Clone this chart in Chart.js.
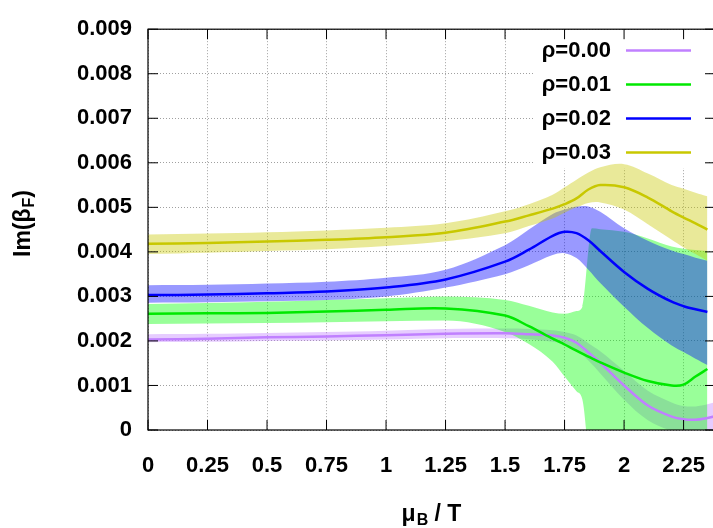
<!DOCTYPE html>
<html>
<head>
<meta charset="utf-8">
<script src="https://cdn.jsdelivr.net/npm/chart.js@4.4.1/dist/chart.umd.min.js"></script>
<style>
  html, body { margin: 0; padding: 0; background: #fff; overflow: hidden; }
  canvas { display: block; }
</style>
</head>
<body>
<canvas id="chart" width="716" height="528"></canvas>
<script>
// values in units of 1e-3
const U = 1e-3;

// mu_B / T grid
const mu = [0, 0.25, 0.5, 0.75, 1, 1.25, 1.5, 1.6, 1.7, 1.75, 1.8, 1.85, 1.9, 2, 2.1, 2.2, 2.25, 2.3, 2.35];
const muPurple = [0, 0.25, 0.5, 0.75, 1, 1.25, 1.5, 1.6, 1.7, 1.75, 1.8, 1.85, 1.9, 2, 2.1, 2.2, 2.25, 2.3, 2.35, 2.385];
const muGreenBand = [0, 0.25, 0.5, 0.75, 1, 1.25, 1.5, 1.6, 1.7, 1.75, 1.8, 1.825, 1.865, 1.9, 2, 2.1, 2.2, 2.3, 2.35];

// rho = 0.00
const purpleLine = [2.03, 2.05, 2.08, 2.10, 2.13, 2.16, 2.17, 2.15, 2.12, 2.07, 1.96, 1.74, 1.51, 1.00, 0.55, 0.30, 0.24, 0.23, 0.27, 0.31];
const purpleUp   = [2.15, 2.16, 2.18, 2.20, 2.23, 2.27, 2.28, 2.27, 2.24, 2.20, 2.12, 1.95, 1.77, 1.33, 0.88, 0.62, 0.54, 0.53, 0.58, 0.63];
const purpleLo   = [1.97, 1.98, 2.00, 2.01, 2.03, 2.06, 2.06, 2.04, 1.98, 1.93, 1.80, 1.56, 1.27, 0.68, 0.22, -0.02, -0.06, -0.08, -0.04, -0.01];

// rho = 0.01
const greenLine = [2.61, 2.62, 2.63, 2.66, 2.70, 2.73, 2.57, 2.33, 2.05, 1.92, 1.78, 1.65, 1.52, 1.29, 1.10, 1.00, 1.02, 1.20, 1.37];
const greenUp   = [2.83, 2.85, 2.88, 2.92, 2.96, 3.00, 2.92, 2.79, 2.64, 2.61, 2.67, 2.77, 4.53, 4.51, 4.45, 4.30, 4.12, 4.04, 4.02];
const greenLo   = [2.38, 2.39, 2.40, 2.42, 2.44, 2.46, 2.20, 1.93, 1.53, 1.20, 0.87, 0.68, -1.0, -1.0, -1.0, -1.0, -1.0, -1.0, -1.0];

// rho = 0.02
const blueLine = [3.03, 3.04, 3.07, 3.11, 3.20, 3.38, 3.78, 4.05, 4.36, 4.45, 4.42, 4.26, 4.02, 3.55, 3.17, 2.88, 2.78, 2.71, 2.65];
const blueUp   = [3.25, 3.26, 3.29, 3.33, 3.42, 3.60, 4.15, 4.50, 4.85, 4.95, 5.02, 5.02, 4.90, 4.53, 4.25, 4.03, 3.95, 3.87, 3.80];
const blueLo   = [2.86, 2.87, 2.89, 2.92, 3.00, 3.20, 3.50, 3.70, 3.93, 3.97, 3.86, 3.60, 3.30, 2.77, 2.29, 1.90, 1.75, 1.60, 1.46];

// rho = 0.03
const yellowLine = [4.18, 4.20, 4.23, 4.27, 4.33, 4.43, 4.68, 4.82, 4.97, 5.07, 5.20, 5.40, 5.50, 5.45, 5.22, 4.91, 4.77, 4.64, 4.50];
const yellowUp   = [4.39, 4.41, 4.44, 4.48, 4.54, 4.64, 4.91, 5.07, 5.28, 5.45, 5.62, 5.78, 5.90, 5.97, 5.76, 5.50, 5.42, 5.33, 5.25];
const yellowLo   = [3.95, 3.98, 4.02, 4.06, 4.13, 4.24, 4.42, 4.58, 4.75, 4.88, 5.00, 5.10, 5.11, 4.95, 4.62, 4.27, 4.10, 3.95, 3.80];

const labels = ["ρ=0.00", "ρ=0.01", "ρ=0.02", "ρ=0.03"];
const lineColors = ["#c080ff", "#00e800", "#0000ff", "#c8c800"];
const bandColors = ["rgba(192,128,255,0.4)", "rgba(0,255,0,0.4)", "rgba(0,0,255,0.4)", "rgba(200,200,0,0.4)"];

const FONT = "'Liberation Sans', Arial, sans-serif";
Chart.defaults.font.family = FONT;

function pts(xs, ys) {
  return xs.map((x, i) => ({ x: x, y: ys[i] * U }));
}

// smooth curves; the green band has a jump so it keeps monotone interpolation
function curve(monotone) {
  return monotone ? { cubicInterpolationMode: "monotone" } : { tension: 0.35 };
}

function band(xs, up, lo, color, order, monotone) {
  return [
    Object.assign({ data: pts(xs, up), fill: "+1", backgroundColor: color, borderWidth: 0,
      borderColor: "rgba(0,0,0,0)", pointRadius: 0, order: order }, curve(monotone)),
    Object.assign({ data: pts(xs, lo), fill: false, borderWidth: 0,
      borderColor: "rgba(0,0,0,0)", pointRadius: 0, order: order }, curve(monotone))
  ];
}

function line(xs, ys, color, order) {
  return Object.assign({ data: pts(xs, ys), fill: false, borderColor: color, borderWidth: 2.5,
    pointRadius: 0, order: order }, curve(false));
}

const datasets = [
  ...band(muPurple, purpleUp, purpleLo, bandColors[0], 8, false),
  ...band(muGreenBand, greenUp, greenLo, bandColors[1], 7, true),
  ...band(mu, blueUp, blueLo, bandColors[2], 6, false),
  ...band(mu, yellowUp, yellowLo, bandColors[3], 5, false),
  line(muPurple, purpleLine, lineColors[0], 4),
  line(mu, greenLine, lineColors[1], 3),
  line(mu, blueLine, lineColors[2], 2),
  line(mu, yellowLine, lineColors[3], 1)
];

// text with one subscript part, centred on (0,0)
function subText(ctx, before, sub, after) {
  const big = "bold 23px " + FONT, small = "bold 16px " + FONT;
  ctx.font = big; const w1 = ctx.measureText(before).width;
  const w3 = ctx.measureText(after).width;
  ctx.font = small; const w2 = ctx.measureText(sub).width;
  let x = -(w1 + w2 + w3) / 2;
  ctx.textAlign = "left";
  ctx.textBaseline = "middle";
  ctx.font = big; ctx.fillText(before, x, 0); x += w1;
  ctx.font = small; ctx.fillText(sub, x + 1, 6); x += w2 + 1;
  ctx.font = big; ctx.fillText(after, x, 0);
}

const decorations = {
  id: "decorations",
  beforeDatasetsDraw(chart) {
    // opaque key box hides the grid behind the legend
    const ctx = chart.ctx;
    ctx.save();
    ctx.fillStyle = "#fff";
    ctx.fillRect(533, 30, 175, 138);
    ctx.restore();
  },
  afterDraw(chart) {
    const { ctx, chartArea: a, scales: { x, y } } = chart;
    ctx.save();
    // frame and inward ticks
    ctx.strokeStyle = "#000";
    ctx.lineWidth = 1.2;
    ctx.strokeRect(a.left, a.top, a.right - a.left, a.bottom - a.top);
    ctx.lineWidth = 1;
    ctx.beginPath();
    x.ticks.forEach(t => {
      const px = x.getPixelForValue(t.value);
      ctx.moveTo(px, a.bottom); ctx.lineTo(px, a.bottom - 10);
      ctx.moveTo(px, a.top); ctx.lineTo(px, a.top + 10);
    });
    y.ticks.forEach(t => {
      const py = y.getPixelForValue(t.value);
      ctx.moveTo(a.left, py); ctx.lineTo(a.left + 10, py);
      ctx.moveTo(a.right, py); ctx.lineTo(a.right - 10, py);
    });
    ctx.stroke();

    // legend
    ctx.font = "bold 22px " + FONT;
    ctx.textAlign = "right";
    ctx.textBaseline = "middle";
    labels.forEach((lab, i) => {
      const ly = 50.5 + 34 * i;
      ctx.fillStyle = "#000";
      ctx.fillText(lab, 611, ly);
      ctx.strokeStyle = lineColors[i];
      ctx.lineWidth = 2.5;
      ctx.beginPath();
      ctx.moveTo(626, ly); ctx.lineTo(691, ly);
      ctx.stroke();
    });

    // axis titles
    ctx.fillStyle = "#000";
    ctx.save();
    ctx.translate(24, 224);
    ctx.rotate(-Math.PI / 2);
    subText(ctx, "Im(β", "F", ")");
    ctx.restore();
    ctx.save();
    ctx.translate(431, 515);
    subText(ctx, "μ", "B", " / T");
    ctx.restore();
    ctx.restore();
  }
};

const tickFont = { family: FONT, size: 22, weight: "bold" };

new Chart(document.getElementById("chart"), {
  type: "line",
  data: { datasets: datasets },
  options: {
    responsive: false,
    animation: false,
    devicePixelRatio: 1,
    layout: { padding: { top: 20, right: 1, left: 0, bottom: 0 } },
    plugins: { legend: { display: false }, tooltip: { enabled: false } },
    scales: {
      x: {
        type: "linear", min: 0, max: 2.382,
        afterFit: s => { s.height = 98; s.paddingLeft = 0; s.paddingRight = 0; },
        ticks: { stepSize: 0.25, includeBounds: false, padding: 23, color: "#000", font: tickFont,
                 maxRotation: 0, autoSkip: false, callback: v => String(+v.toFixed(2)) },
        grid: { color: "#a0a0a0", lineWidth: 1, drawTicks: false },
        border: { display: false, dash: [1, 2] }
      },
      y: {
        type: "linear", min: 0, max: 0.009,
        afterFit: s => { s.width = 148; },
        ticks: { stepSize: 0.001, padding: 16, color: "#000", font: tickFont,
                 callback: v => (v === 0 ? "0" : v.toFixed(3)) },
        grid: { color: "#a0a0a0", lineWidth: 1, drawTicks: false },
        border: { display: false, dash: [1, 2] }
      }
    }
  },
  plugins: [decorations]
});
</script>
</body>
</html>
